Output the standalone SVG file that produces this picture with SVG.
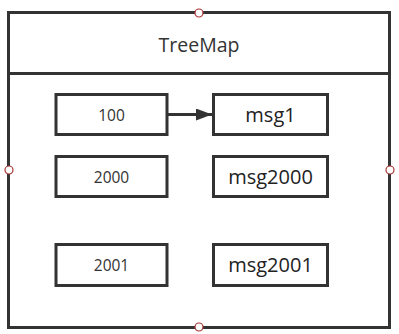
<svg xmlns="http://www.w3.org/2000/svg" width="399" height="334" viewBox="0 0 399 334">
<defs>
<style>
.box{fill:#fff;stroke:#333;stroke-width:3}
.frame{fill:none;stroke:#333;stroke-width:3}
.k{font-family:"Open Sans","Noto Sans",sans-serif;font-size:15.5px;fill:#333;text-anchor:middle;dominant-baseline:central}
.v{font-family:"Open Sans","Noto Sans",sans-serif;font-size:20px;fill:#222;text-anchor:middle;dominant-baseline:central}
.t{font-family:"Open Sans","Noto Sans",sans-serif;font-size:19.5px;fill:#333;text-anchor:middle;dominant-baseline:central}
.h{fill:#fff;stroke:#a33;stroke-width:1.2}
</style>
<marker id="ah" viewBox="0 0 16 12" refX="16" refY="6" markerWidth="16" markerHeight="12" markerUnits="userSpaceOnUse" orient="auto">
<path d="M0,0 L16,6 L0,12 z" fill="#333"/>
</marker>
</defs>
<g id="treemap">
<rect class="frame" x="8.5" y="12.5" width="381" height="315" fill="#fff"/>
<line class="frame" x1="8.5" y1="73.5" x2="389.5" y2="73.5"/>
<text class="t" x="199" y="44">TreeMap</text>
</g>
<g id="k100"><rect class="box" x="56" y="94.5" width="111" height="40"/><text class="k" x="111.5" y="114.5">100</text></g>
<g id="msg1"><rect class="box" x="213.5" y="94.5" width="114" height="40"/><text class="v" x="270.5" y="114">msg1</text></g>
<g id="k2000"><rect class="box" x="56" y="156.5" width="111" height="40"/><text class="k" x="111.5" y="176.5">2000</text></g>
<g id="msg2000"><rect class="box" x="213.5" y="156.5" width="114" height="40"/><text class="v" x="270.5" y="176">msg2000</text></g>
<g id="k2001"><rect class="box" x="56" y="244.5" width="111" height="41"/><text class="k" x="111.5" y="265">2001</text></g>
<g id="msg2001"><rect class="box" x="213.5" y="244.5" width="114" height="41"/><text class="v" x="270.5" y="264.5">msg2001</text></g>
<g id="connectors">
<line x1="167.5" y1="114.5" x2="212" y2="114.5" stroke="#333" stroke-width="3" marker-end="url(#ah)"/>
</g>
<g id="handles">
<circle class="h" cx="199" cy="13" r="4"/>
<circle class="h" cx="9" cy="170" r="4"/>
<circle class="h" cx="390" cy="170" r="4"/>
<circle class="h" cx="199" cy="327" r="4"/>
</g>
</svg>
